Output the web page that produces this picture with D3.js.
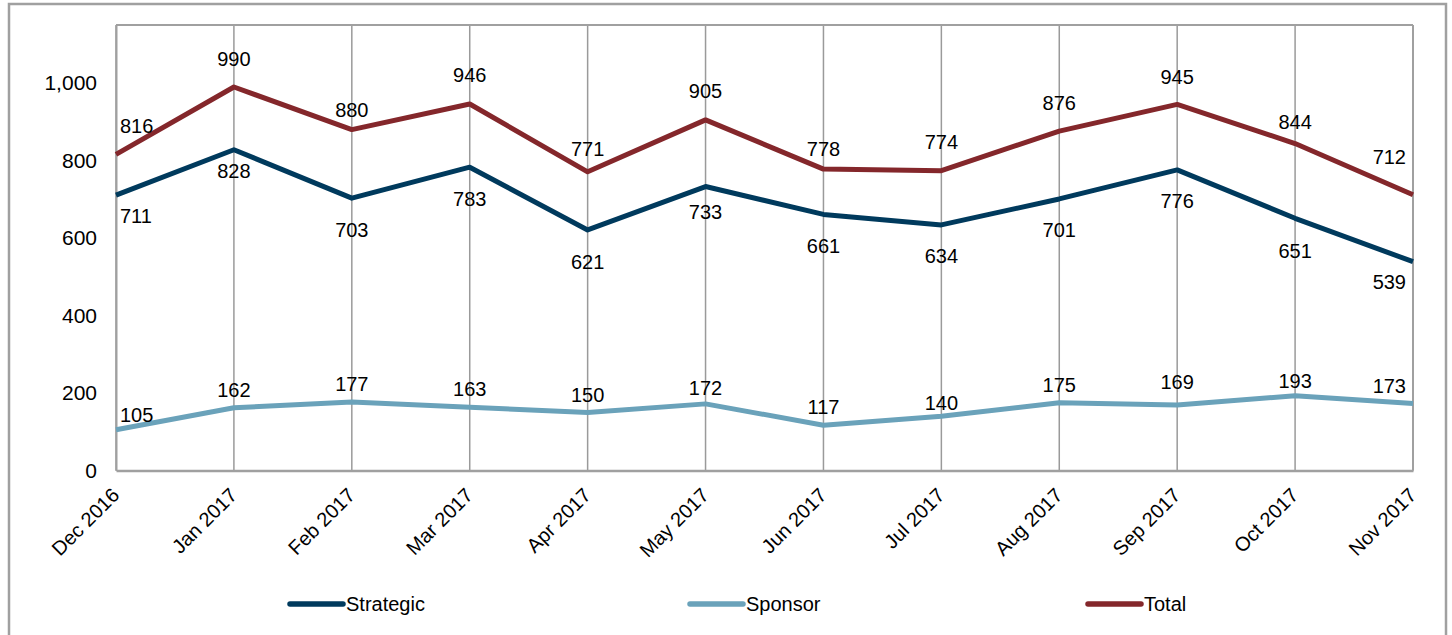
<!DOCTYPE html>
<html>
<head>
<meta charset="utf-8">
<script src="https://cdn.jsdelivr.net/npm/d3@7"></script>
<style>
  html, body { margin: 0; padding: 0; background: #fff; }
  svg { display: block; font-family: "Liberation Sans", Arial, sans-serif; }
</style>
</head>
<body>
<svg id="chart" width="1452" height="635"></svg>
<script>
// Monthly counts, Dec 2016 – Nov 2017
const months = ["Dec 2016", "Jan 2017", "Feb 2017", "Mar 2017", "Apr 2017", "May 2017",
                "Jun 2017", "Jul 2017", "Aug 2017", "Sep 2017", "Oct 2017", "Nov 2017"];
const strategic = [711, 828, 703, 783, 621, 733, 661, 634, 701, 776, 651, 539];
const sponsor   = [105, 162, 177, 163, 150, 172, 117, 140, 175, 169, 193, 173];
const total     = [816, 990, 880, 946, 771, 905, 778, 774, 876, 945, 844, 712];
const yTicks = [0, 200, 400, 600, 800, 1000];

// vertical nudge of each data label's centre from its point (px)
const strategicLabelDy = [21, 21, 32, 32, 32, 25, 31, 31, 31, 31, 32, 20];
const sponsorLabelDy   = [-15, -18, -18, -19, -18, -16, -18, -13, -18, -23, -15, -18];
const totalLabelDy     = [-29, -28, -20, -29, -23, -29, -20, -29, -28, -28, -22, -38];

const series = [
  { name: "Strategic", values: strategic, color: "#003a5d", labelDy: strategicLabelDy },
  { name: "Sponsor",   values: sponsor,   color: "#6aa2ba", labelDy: sponsorLabelDy },
  { name: "Total",     values: total,     color: "#84272b", labelDy: totalLabelDy }
];

const svg = d3.select("#chart");
const plot = { left: 116, right: 1413, top: 25, bottom: 470.5 };
const gray = "#a0a0a0";

// outer frame
svg.append("rect")
  .attr("x", 9).attr("y", 4)
  .attr("width", 1437).attr("height", 660)
  .attr("fill", "none").attr("stroke", gray).attr("stroke-width", 2.5);

const x = d3.scalePoint().domain(months).range([plot.left, plot.right]);
const y = d3.scaleLinear().domain([0, 1150]).range([plot.bottom, plot.top]);

// vertical gridlines at each month
svg.append("g").selectAll("line")
  .data(months)
  .join("line")
  .attr("x1", d => x(d)).attr("x2", d => x(d))
  .attr("y1", plot.top).attr("y2", plot.bottom)
  .attr("stroke", "#9a9a9a").attr("stroke-width", 1.5);

// top and right edges of the plot area
svg.append("line")
  .attr("x1", plot.left).attr("x2", plot.right)
  .attr("y1", plot.top).attr("y2", plot.top)
  .attr("stroke", gray).attr("stroke-width", 2);
svg.append("line")
  .attr("x1", plot.right).attr("x2", plot.right)
  .attr("y1", plot.top).attr("y2", plot.bottom)
  .attr("stroke", gray).attr("stroke-width", 2);

// y axis
const yAxis = svg.append("g")
  .attr("transform", `translate(${plot.left},0)`)
  .call(d3.axisLeft(y).tickValues(yTicks).tickFormat(d3.format(",")).tickSize(0).tickPadding(19));
yAxis.select(".domain").attr("stroke", gray).attr("stroke-width", 2);
yAxis.selectAll("text")
  .attr("font-size", 21).attr("fill", "#000")
  .attr("font-family", "Liberation Sans, Arial, sans-serif");

// x axis
const xAxis = svg.append("g")
  .attr("transform", `translate(0,${plot.bottom})`)
  .call(d3.axisBottom(x).tickSize(0).tickPadding(0));
xAxis.select(".domain").attr("stroke", gray).attr("stroke-width", 2.5);
xAxis.selectAll("text")
  .attr("font-size", 20).attr("fill", "#000")
  .attr("font-family", "Liberation Sans, Arial, sans-serif")
  .attr("text-anchor", "end")
  .attr("dy", null)
  .attr("transform", "translate(4,26) rotate(-45)");

// lines
const line = d3.line().x((d, i) => x(months[i])).y(d => y(d));
series.forEach(s => {
  svg.append("path")
    .datum(s.values)
    .attr("d", line)
    .attr("fill", "none")
    .attr("stroke", s.color)
    .attr("stroke-width", 5)
    .attr("stroke-linejoin", "round");
});

// data labels
const last = months.length - 1;
series.forEach(s => {
  svg.append("g").selectAll("text")
    .data(s.values)
    .join("text")
    .attr("x", (d, i) => i === 0 ? x(months[i]) + 4 : i === last ? x(months[i]) - 7 : x(months[i]))
    .attr("y", (d, i) => y(d) + s.labelDy[i])
    .attr("dy", "0.36em")
    .attr("text-anchor", (d, i) => i === 0 ? "start" : i === last ? "end" : "middle")
    .attr("font-size", 20)
    .attr("fill", "#000")
    .text(d => d);
});

// legend
const legendX = [288, 688, 1086];
const legend = svg.append("g").selectAll("g")
  .data(series)
  .join("g")
  .attr("transform", (d, i) => `translate(${legendX[i]},604)`);
legend.append("line")
  .attr("x1", 2).attr("x2", 55).attr("y1", 0).attr("y2", 0)
  .attr("stroke", d => d.color).attr("stroke-width", 5.5)
  .attr("stroke-linecap", "round");
legend.append("text")
  .attr("x", 58).attr("y", 7)
  .attr("font-size", 20).attr("fill", "#000")
  .text(d => d.name);
</script>
</body>
</html>
